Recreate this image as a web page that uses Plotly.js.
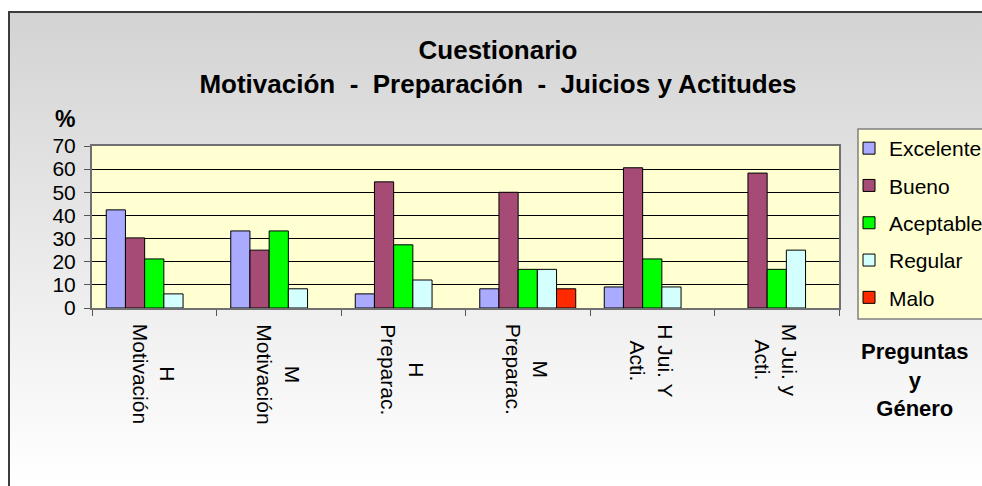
<!DOCTYPE html>
<html>
<head>
<meta charset="utf-8">
<script src="https://cdn.plot.ly/plotly-3.0.1.min.js"></script>
<style>
  html, body { margin: 0; padding: 0; background: #ffffff; }
  #wrap { position: relative; width: 982px; height: 486px; overflow: hidden; background: #ffffff; }
  #bg { position: absolute; left: 8px; top: 11px; width: 1000px; height: 500px;
        border-left: 2px solid #3c3c3c; border-top: 2px solid #3c3c3c;
        background: linear-gradient(to bottom, #d3d3d3 0px, #e6e6e6 200px, #ffffff 470px); }
  #chart { position: absolute; left: 0; top: 0; width: 982px; height: 486px; }
</style>
</head>
<body>
<div id="wrap">
  <div id="bg"></div>
  <div id="chart"></div>
</div>
<script>
// ---- data ----
const categories = ['H Motivación', 'M Motivación', 'H Preparac.', 'M Preparac.', 'H Jui. Y Acti.', 'M Jui. y Acti.'];
const tickLabels = ['H<br>Motivación', 'M<br>Motivación', 'H<br>Preparac.', 'M<br>Preparac.', 'H Jui. Y<br>Acti.', 'M Jui. y<br>Acti.'];
const seriesNames = ['Excelente', 'Bueno', 'Aceptable', 'Regular', 'Malo'];
const excelente = [42.4, 33.3, 6.1, 8.3, 9.1, 0];
const bueno     = [30.3, 25.0, 54.5, 50.0, 60.6, 58.3];
const aceptable = [21.2, 33.3, 27.3, 16.7, 21.2, 16.7];
const regular   = [6.1, 8.3, 12.1, 16.7, 9.1, 25.0];
const malo      = [0, 0, 0, 8.3, 0, 0];
const yTickVals = [0, 10, 20, 30, 40, 50, 60, 70];

// ---- styles ----
const FONT = 'Liberation Sans, Arial, sans-serif';
const colors = ['#aaaaff', '#a64a76', '#00ff00', '#d4ffff', '#ff2a00'];
const values = [excelente, bueno, aceptable, regular, malo];

const traces = values.map((v, i) => ({
  type: 'bar',
  name: seriesNames[i],
  x: categories,
  // zero values are not drawn (as in the original chart)
  y: v.map(val => (val === 0 ? null : val)),
  legendgroup: 'g' + i,
  marker: { color: colors[i], line: { color: '#000000', width: 1 } },
  hoverinfo: 'x+y+name'
}));

const W = 982, H = 486;
const L = 92, R = 839, T = 146, B = 308;
const pw = R - L, ph = B - T;
const px2x = p => (p - L) / pw;
const px2y = p => (B - p) / ph;

const annotations = categories.map((c, i) => ({
  xref: 'x', yref: 'paper', x: c, y: 0,
  yshift: -14, xanchor: 'center', yanchor: 'top',
  text: tickLabels[i], textangle: 90, align: 'center', showarrow: false,
  font: { family: FONT, size: 21, color: '#000' }
}));
annotations.push({
  xref: 'paper', yref: 'paper', x: px2x(65), y: px2y(119),
  xanchor: 'center', yanchor: 'middle', showarrow: false,
  text: '<b>%</b>', font: { family: FONT, size: 23, color: '#000' }
});
annotations.push({
  xref: 'paper', yref: 'paper', x: px2x(915), y: px2y(380),
  xanchor: 'center', yanchor: 'middle', showarrow: false, align: 'center',
  text: '<b>Preguntas<br>y<br>Género</b>', font: { family: FONT, size: 22, color: '#000' }
});

const layout = {
  width: W, height: H,
  margin: { l: L, r: W - R, t: T, b: H - B, autoexpand: false },
  paper_bgcolor: 'rgba(0,0,0,0)',
  plot_bgcolor: '#ffffd2',
  font: { family: FONT, size: 21, color: '#000' },
  title: {
    text: '<b>Cuestionario<br>Motivación  -  Preparación  -  Juicios y Actitudes</b>',
    font: { family: FONT, size: 26, color: '#000' },
    x: 498 / W, xanchor: 'center', xref: 'container',
    y: 1 - 59 / H, yanchor: 'top', yref: 'container'
  },
  barmode: 'group', bargap: 0.229, bargroupgap: 0,
  showlegend: true,
  legend: {
    x: px2x(849), xanchor: 'left', y: px2y(128), yanchor: 'top',
    bgcolor: 'rgba(0,0,0,0)', borderwidth: 0,
    tracegroupgap: 7, traceorder: 'grouped',
    font: { family: FONT, size: 21, color: '#000' }
  },
  xaxis: {
    type: 'category', tickson: 'boundaries', ticks: 'outside', ticklen: 6, tickwidth: 1, tickcolor: '#555',
    showticklabels: false, showgrid: false, zeroline: false,
    showline: true, linecolor: '#707070', linewidth: 2, mirror: true, fixedrange: true
  },
  yaxis: {
    range: [0, 70], tickvals: yTickVals, ticks: 'outside', ticklen: 6, tickwidth: 1, tickcolor: '#555',
    ticklabelstandoff: 4,
    showgrid: true, gridcolor: '#000000', gridwidth: 1, zeroline: false,
    showline: true, linecolor: '#707070', linewidth: 2, mirror: true,
    tickfont: { family: FONT, size: 21, color: '#000' }, fixedrange: true
  },
  shapes: [{
    type: 'rect', xref: 'paper', yref: 'paper', layer: 'below',
    x0: px2x(858), x1: px2x(1000), y0: px2y(319), y1: px2y(129),
    fillcolor: '#ffffd2', line: { color: '#808080', width: 1.5 }
  }],
  annotations: annotations
};

Plotly.newPlot('chart', traces, layout, { displayModeBar: false, staticPlot: true });
</script>
</body>
</html>
